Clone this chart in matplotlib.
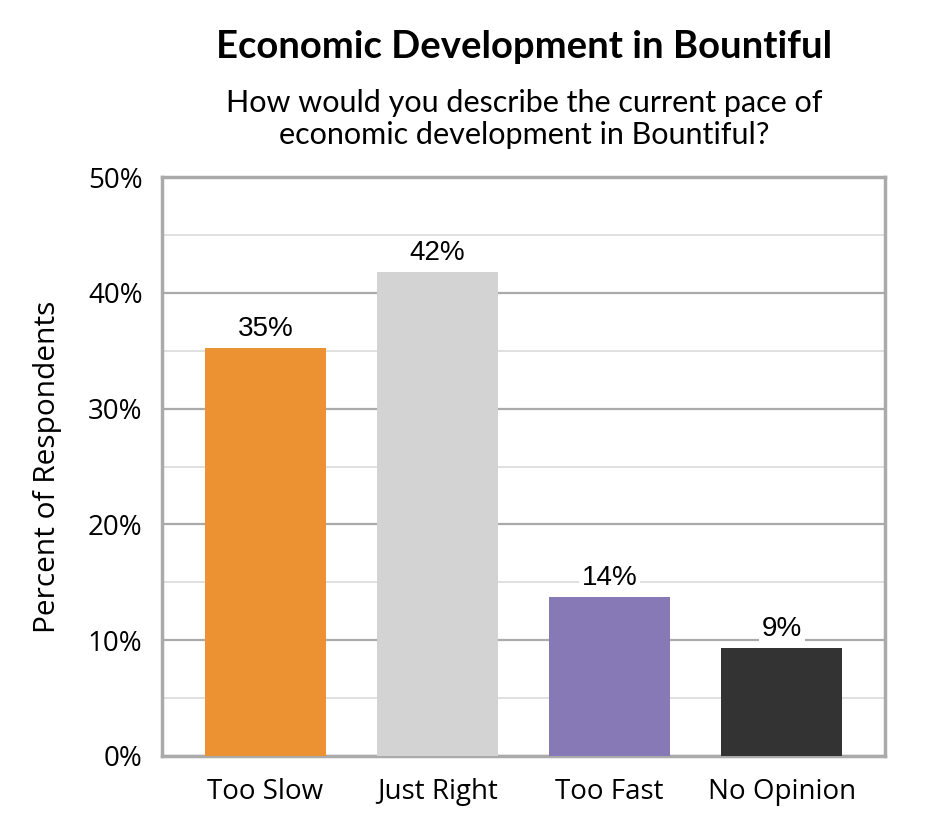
import matplotlib
matplotlib.use("Agg")
import matplotlib.pyplot as plt
from matplotlib.ticker import MultipleLocator, FuncFormatter

categories = ["Too Slow", "Just Right", "Too Fast", "No Opinion"]
values = [35.2, 41.8, 13.7, 9.3]
labels = ["35%", "42%", "14%", "9%"]
colors = ["#ED9233", "#D3D3D3", "#8779B5", "#333333"]

fig = plt.figure(figsize=(9.45, 8.4), dpi=100)
ax = fig.add_axes([162/945, 1-756/840, (885-162)/945, (756-177)/840])

x = range(len(categories))
bars = ax.bar(x, values, width=0.70, color=colors, zorder=3)
ax.set_xlim(-0.6, 3.6)
ax.set_ylim(0, 50)
ax.yaxis.set_major_locator(MultipleLocator(10))
ax.yaxis.set_minor_locator(MultipleLocator(5))
ax.yaxis.set_major_formatter(FuncFormatter(lambda v, p: f"{v:.0f}%"))
ax.grid(axis="y", which="major", color="#AAAAAA", linewidth=1.6, zorder=0)
ax.grid(axis="y", which="minor", color="#DDDDDD", linewidth=1.3, zorder=0)
ax.set_xticks(list(x))
ax.set_xticklabels(categories, family="Open Sans", fontsize=20)
for t in ax.get_yticklabels():
    t.set_family("Open Sans")
    t.set_fontsize(20)
ax.tick_params(axis="x", which="both", length=0, pad=16)
ax.tick_params(axis="y", which="both", length=0, pad=14)
for s in ax.spines.values():
    s.set_color("#AAAAAA")
    s.set_linewidth(2.5)

for b, lab in zip(bars, labels):
    ax.text(b.get_x() + b.get_width()/2, b.get_height() + 0.55, lab,
            ha="center", va="bottom", fontsize=20, family="Liberation Sans",
            bbox=dict(facecolor="white", edgecolor="none", pad=2), zorder=4)

ax.set_ylabel("Percent of Respondents", family="Open Sans", fontsize=21.5)
ax.yaxis.set_label_coords(-(162-62)/723, 0.5)

fig.text(524/945, 1-47/840, "Economic Development in Bountiful", ha="center", va="center",
         family="Lato", fontweight="bold", fontsize=27.5)
fig.text(524/945, 1-119/840, "How would you describe the current pace of\neconomic development in Bountiful?",
         ha="center", va="center", family="Lato", fontsize=22, linespacing=1.2)

fig.savefig("out.png", dpi=100)
